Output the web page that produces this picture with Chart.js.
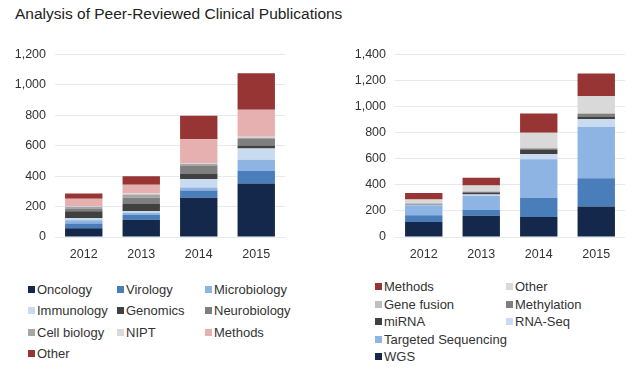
<!DOCTYPE html>
<html>
<head>
<meta charset="utf-8">
<script src="https://cdn.jsdelivr.net/npm/chart.js@4/dist/chart.umd.min.js"></script>
<style>
  body { margin: 0; background: #fff; font-family: "Liberation Sans", Arial, sans-serif; }
  #wrap { position: relative; width: 640px; height: 374px; overflow: hidden; }
  #title { position: absolute; left: 15px; top: 5px; font-size: 15.5px; color: #222; white-space: nowrap; }
  #leftBox { position: absolute; left: 0; top: 38px; width: 300px; height: 225px; }
  #rightBox { position: absolute; left: 320px; top: 38px; width: 320px; height: 225px; }
  .legend { position: absolute; font-size: 13px; color: #333; }
  .legend .item { position: absolute; white-space: nowrap; line-height: 15px; }
  .legend .sw { display: inline-block; width: 7px; height: 7px; margin-right: 2px; vertical-align: 1px; }
</style>
</head>
<body>
<div id="wrap">
  <div id="title">Analysis of Peer-Reviewed Clinical Publications</div>
  <div id="leftBox"><canvas id="leftChart"></canvas></div>
  <div id="rightBox"><canvas id="rightChart"></canvas></div>
  <div id="leftLegend" class="legend"></div>
  <div id="rightLegend" class="legend"></div>
</div>
<script>
// Years on the x axis
const years = ["2012", "2013", "2014", "2015"];

// Left chart: publications by field (stacked bottom to top)
const oncology = [57, 114, 258, 352];
const virology = [32, 32, 47, 82];
const microbiology = [21, 13, 21, 74];
const immunology = [14, 10, 55, 74];
const genomics = [45, 51, 36, 19];
const neurobiology = [19, 38, 53, 44];
const cellBiology = [11, 21, 10, 8];
const nipt = [4, 7, 6, 7];
const methodsLeft = [48, 57, 157, 176];
const otherLeft = [35, 57, 154, 241];
const leftTicks = [0, 200, 400, 600, 800, 1000, 1200];

// Right chart: publications by technique (stacked bottom to top)
const wgs = [116, 163, 153, 234];
const hiddenSeries = [50, 45, 148, 217]; // legend entry is blanked out in the source
const targetedSeq = [78, 106, 296, 393];
const rnaSeq = [3, 12, 37, 60];
const mirna = [5, 15, 33, 20];
const methylation = [3, 6, 12, 20];
const geneFusion = [3, 4, 5, 10];
const otherRight = [30, 45, 116, 125];
const methodsRight = [50, 59, 148, 175];
const rightTicks = [0, 200, 400, 600, 800, 1000, 1200, 1400];

const leftSets = [
  { label: "Oncology", data: oncology, backgroundColor: "#14284b" },
  { label: "Virology", data: virology, backgroundColor: "#4a7ebb" },
  { label: "Microbiology", data: microbiology, backgroundColor: "#8eb4e3" },
  { label: "Immunology", data: immunology, backgroundColor: "#c9dbf0" },
  { label: "Genomics", data: genomics, backgroundColor: "#404040" },
  { label: "Neurobiology", data: neurobiology, backgroundColor: "#7f7f7f" },
  { label: "Cell biology", data: cellBiology, backgroundColor: "#a6a6a6" },
  { label: "NIPT", data: nipt, backgroundColor: "#d9d9d9" },
  { label: "Methods", data: methodsLeft, backgroundColor: "#e6b0b0" },
  { label: "Other", data: otherLeft, backgroundColor: "#973535" },
];

const rightSets = [
  { label: "WGS", data: wgs, backgroundColor: "#14284b" },
  { label: "", data: hiddenSeries, backgroundColor: "#4a7ebb" },
  { label: "Targeted Sequencing", data: targetedSeq, backgroundColor: "#8eb4e3" },
  { label: "RNA-Seq", data: rnaSeq, backgroundColor: "#c9dbf0" },
  { label: "miRNA", data: mirna, backgroundColor: "#404040" },
  { label: "Methylation", data: methylation, backgroundColor: "#7f7f7f" },
  { label: "Gene fusion", data: geneFusion, backgroundColor: "#bfbfbf" },
  { label: "Other", data: otherRight, backgroundColor: "#d9d9d9" },
  { label: "Methods", data: methodsRight, backgroundColor: "#973535" },
];

function makeChart(id, sets, ticks, yWidth) {
  const ctx = document.getElementById(id).getContext("2d");
  return new Chart(ctx, {
    type: "bar",
    data: {
      labels: years,
      datasets: sets.map((s) => ({ ...s, barPercentage: 0.65, categoryPercentage: 1 })),
    },
    options: {
      responsive: true,
      maintainAspectRatio: false,
      animation: false,
      layout: { padding: { top: 10, right: 15, bottom: 0, left: 0 } },
      plugins: { legend: { display: false }, tooltip: { enabled: true } },
      scales: {
        x: {
          stacked: true,
          grid: { display: false },
          border: { display: false },
          ticks: { color: "#333", font: { family: "Liberation Sans", size: 12.5 }, padding: 2 },
          afterFit: (scale) => { scale.height = 26; },
        },
        y: {
          stacked: true,
          min: 0,
          max: ticks[ticks.length - 1],
          afterBuildTicks: (scale) => { scale.ticks = ticks.map((v) => ({ value: v })); },
          grid: { color: "#e6e9ee", drawTicks: false },
          border: { display: false },
          ticks: {
            color: "#333",
            font: { family: "Liberation Sans", size: 12.5 },
            padding: 9,
            callback: (v) => v.toLocaleString("en-US"),
          },
          afterFit: (scale) => { scale.width = yWidth; },
        },
      },
    },
  });
}

makeChart("leftChart", leftSets, leftTicks, 55);
makeChart("rightChart", rightSets, rightTicks, 75);

// HTML legends laid out in fixed columns like the original
function buildLegend(elId, items, cols, rowTop, rowStep) {
  const el = document.getElementById(elId);
  items.forEach((s, i) => {
    const col = i % cols.length;
    const row = Math.floor(i / cols.length);
    if (!s.label) return; // blank slot
    const div = document.createElement("div");
    div.className = "item";
    div.style.left = cols[col] + "px";
    div.style.top = (rowTop + row * rowStep) + "px";
    div.innerHTML = '<span class="sw" style="background:' + s.backgroundColor + '"></span>' + s.label;
    el.appendChild(div);
  });
}

buildLegend("leftLegend", leftSets, [28, 117, 205], 282, 21.3);
buildLegend("rightLegend", rightSets.slice().reverse(), [375, 506], 279, 17.5);
</script>
</body>
</html>
